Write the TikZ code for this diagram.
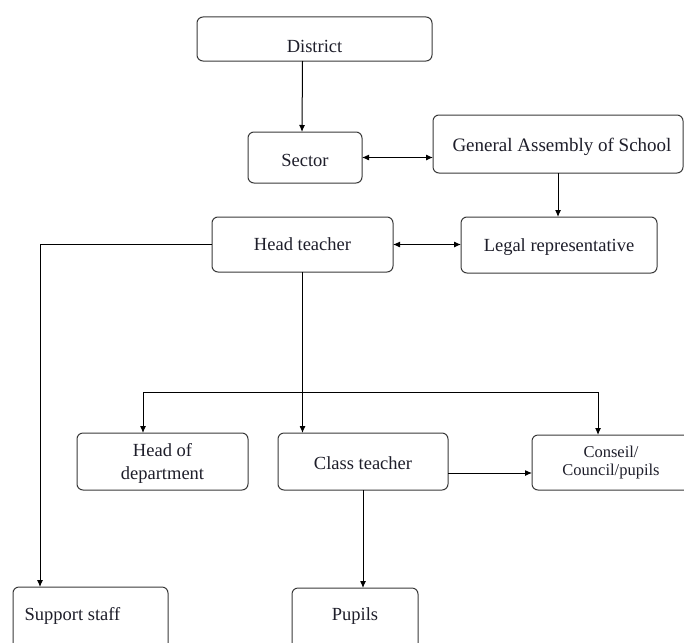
\documentclass[tikz,border=0pt]{standalone}
\usepackage{fontspec}
\setmainfont{Liberation Serif}
\usetikzlibrary{arrows.meta,calc}
\definecolor{boxline}{HTML}{3A3A3A}
\definecolor{txt}{HTML}{1E1E2A}
\newcommand\shiftv[2]{\raisebox{#1}[\height][\depth]{#2}}
\tikzset{
  box/.style={draw=boxline, line width=1pt, rounded corners=6pt, inner sep=0pt, outer sep=0pt,
    text=txt, font=\fontsize{18.5}{23}\selectfont, align=center},
  conn/.style={draw=black, line width=1pt},
  arr/.style={conn, -{Latex[length=7pt,width=6pt]}},
  darr/.style={conn, {Latex[length=7pt,width=6pt]}-{Latex[length=7pt,width=6pt]}},
}
\begin{document}
\begin{tikzpicture}[x=1pt,y=-1pt]
\useasboundingbox (0,0) rectangle (684,642);
\clip (0,0) rectangle (684,642);
\fill[white] (0,0) rectangle (684,642);

\node[box, minimum width=235pt, minimum height=44pt] (district) at (314.5,39) {\shiftv{-7pt}{District}};
\node[box, minimum width=114pt, minimum height=51pt] (sector) at (305,157.5) {\shiftv{-3pt}{Sector}};
\node[box, minimum width=250pt, minimum height=58pt, font=\fontsize{19}{23}\selectfont] (ga) at (558,144) {\hspace{8pt}\shiftv{-3pt}{General Assembly of School}};
\node[box, minimum width=196pt, minimum height=56pt] (legal) at (559,245) {\shiftv{-2pt}{Legal representative}};
\node[box, minimum width=181pt, minimum height=55pt] (head) at (302.5,244.5) {Head teacher};
\node[box, minimum width=171pt, minimum height=57pt] (hod) at (162.5,461.5) {\shiftv{-2pt}{\begin{tabular}{@{}c@{}}Head of\\department\end{tabular}}};
\node[box, minimum width=170pt, minimum height=57pt] (class) at (363,461.5) {\shiftv{-2pt}{Class teacher}};
\node[box, minimum width=158pt, minimum height=55pt, font=\fontsize{16.5}{18.5}\selectfont] (conseil) at (611,462.5) {Conseil/\\Council/pupils};
\node[box, minimum width=155pt, minimum height=63pt] (support) at (90.5,618.5) {\hspace{-36pt}\shiftv{2.5pt}{Support staff}};
\node[box, minimum width=126pt, minimum height=62pt] (pupils) at (355,619) {\shiftv{3pt}{Pupils}};

\coordinate (branch) at (302,392);

\draw[arr] ([xshift=-12pt]district.south) -- ([xshift=-3pt]sector.north);
\draw[darr] (sector.east) -- (sector.east -| ga.west);
\draw[arr] (ga.south) -- (ga.south |- legal.north);
\draw[darr] (head.east) -- (head.east -| legal.west);
\draw[arr] (head.west) -| ([xshift=-50.5pt]support.north);
\draw[arr] (head.south) -- (class.north -| head.south);
\draw[arr] (branch) -| ([xshift=-19.5pt]hod.north);
\draw[arr] (branch) -| ([xshift=-13pt]conseil.north);
\draw[arr] ([yshift=-11.5pt]class.east) -- ([yshift=-11.5pt]class.east -| conseil.west);
\draw[arr] (class.south) -- (class.south |- pupils.north);
\end{tikzpicture}
\end{document}
